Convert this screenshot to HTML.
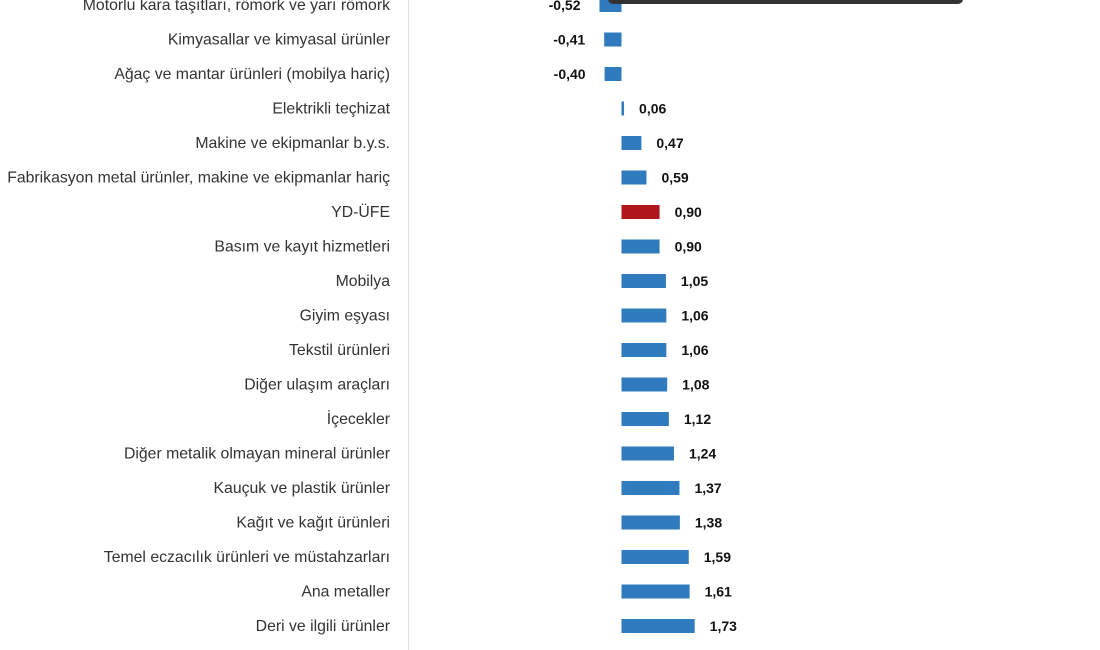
<!DOCTYPE html>
<html><head><meta charset="utf-8"><style>
body{margin:0;background:#fff;width:1100px;height:650px;overflow:hidden}
svg{display:block}
</style></head><body>
<svg id="c" width="1100" height="650">
<line x1="408.5" y1="0" x2="408.5" y2="650" stroke="#e0e0e0" stroke-width="1"/>
<g id="g"></g>
<rect x="608" y="-12" width="355" height="16" rx="5" fill="#333"/>
</svg>
<script>
const categories=["Motorlu kara taşıtları, römork ve yarı römork","Kimyasallar ve kimyasal ürünler","Ağaç ve mantar ürünleri (mobilya hariç)","Elektrikli teçhizat","Makine ve ekipmanlar b.y.s.","Fabrikasyon metal ürünler, makine ve ekipmanlar hariç","YD-ÜFE","Basım ve kayıt hizmetleri","Mobilya","Giyim eşyası","Tekstil ürünleri","Diğer ulaşım araçları","İçecekler","Diğer metalik olmayan mineral ürünler","Kauçuk ve plastik ürünler","Kağıt ve kağıt ürünleri","Temel eczacılık ürünleri ve müstahzarları","Ana metaller","Deri ve ilgili ürünler"];
const values=[-0.52,-0.41,-0.40,0.06,0.47,0.59,0.90,0.90,1.05,1.06,1.06,1.08,1.12,1.24,1.37,1.38,1.59,1.61,1.73];
const highlight=["YD-ÜFE"];
const x0=621.5,k=42.3;
const xs=v=>x0+v*k;
const ys=i=>5+i*34.5;
const g=document.getElementById('g');
const NS='http://www.w3.org/2000/svg';
function mk(t,a){const e=document.createElementNS(NS,t);for(const q in a)e.setAttribute(q,a[q]);g.appendChild(e);return e;}
categories.forEach((c,i)=>{
 const v=values[i],y=ys(i);
 const lab=mk('text',{x:390,y:y+5,'text-anchor':'end','font-family':'Liberation Sans, sans-serif','font-size':'15.8',fill:'#333'});
 lab.textContent=c;
 
 
 const a=xs(Math.min(0,v)),b=xs(Math.max(0,v));
 const r=mk('rect',{x:a,y:y-7,width:Math.max(2,b-a),height:14,fill:highlight.includes(c)?'#b0141c':'#2f7bbd'});
 
 
 const s=v.toFixed(2).replace('.',',');
 const t=mk('text',{x:v<0?a-19:b+15,y:y+5,'text-anchor':v<0?'end':'start','font-family':'Liberation Sans, sans-serif','font-size':'14','font-weight':'bold',fill:'#111'});
 t.textContent=s;
 
 
});
</script>
</body></html>
